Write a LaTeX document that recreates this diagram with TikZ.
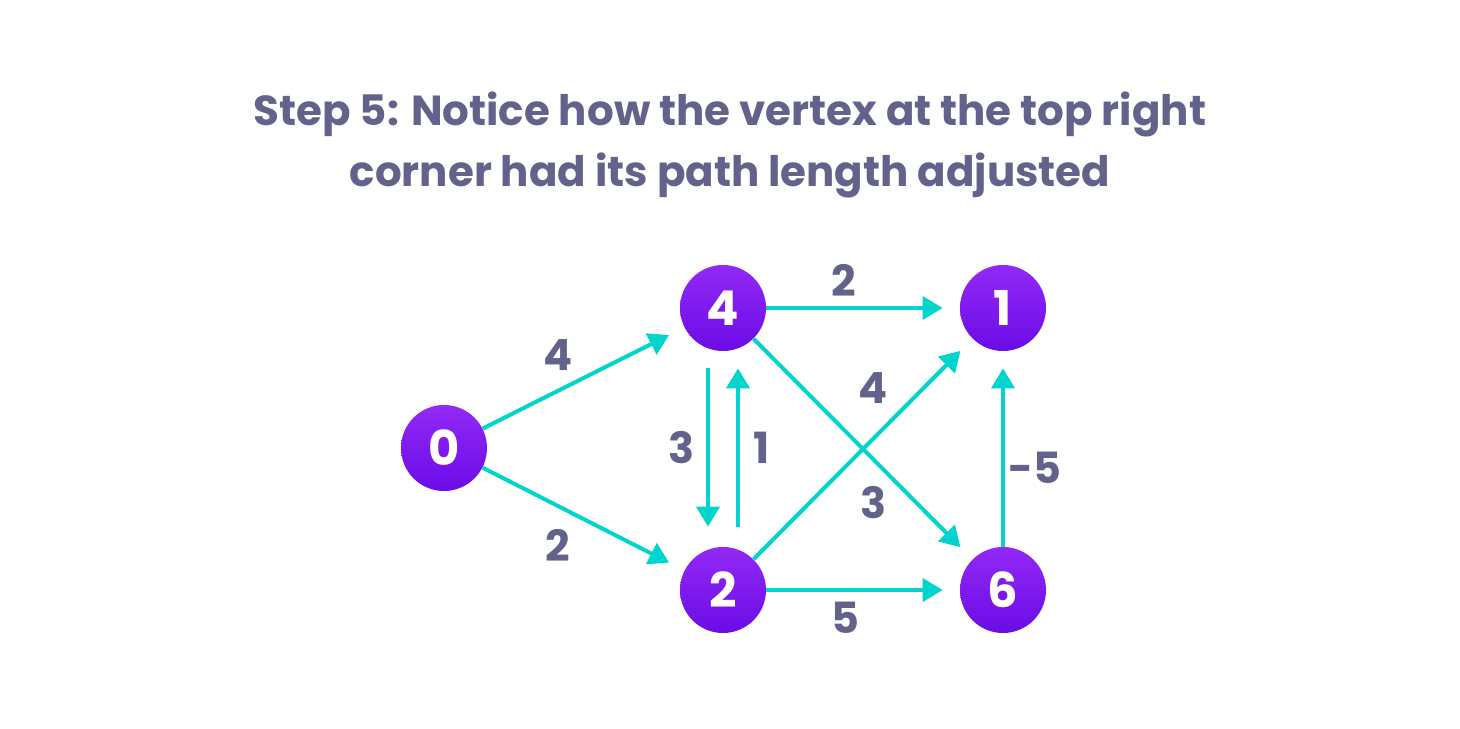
\documentclass[tikz,border=0pt]{standalone}
\usepackage{fontspec}
\setmainfont{Poppins}
\usetikzlibrary{arrows.meta}
\definecolor{slate}{RGB}{99,98,138}
\definecolor{aqua}{RGB}{0,212,204}
\definecolor{violettop}{RGB}{146,41,246}
\definecolor{violetbot}{RGB}{107,12,230}

\begin{document}
\begin{tikzpicture}[x=0.5pt,y=-0.5pt]
	\tikzstyle{Vertex} = [circle, minimum size=43pt, inner sep=0pt, top color=violettop, bottom color=violetbot, text=white, font=\bfseries\fontsize{24}{24}\selectfont]
	\tikzstyle{Weight} = [text=slate, font=\bfseries\fontsize{21.5}{22}\selectfont]
	\tikzstyle{Title} = [text=slate, anchor=base, font=\bfseries\fontsize{21}{28}\selectfont]
	\tikzstyle{arrow} = [aqua, line width=2pt, -{Triangle[length=10pt,width=11.5pt]}, shorten >=8.5pt]

	\useasboundingbox (0,0) rectangle (1460,728);

	\node (title1) [Title] at (730,125) {Step 5: Notice how the vertex at the top right};
	\node (title2) [Title] at (730,186) {corner had its path length adjusted};

	\node (n0) [Vertex] at (444,448) {0};
	\node (n4) [Vertex] at (723,308) {4};
	\node (n1) [Vertex] at (1003,308) {1};
	\node (n2) [Vertex] at (723,590) {2};
	\node (n6) [Vertex] at (1003,590) {6};

	\draw [arrow] (n0) -- (n4);
	\draw [arrow] (n0) -- (n2);
	\draw [arrow] (n4) -- (n1);
	\draw [arrow] (n4) -- (n6);
	\draw [arrow] (n2) -- (n1);
	\draw [arrow] (n2) -- (n6);
	\draw [arrow] (n6) -- (n1);
	\draw [arrow, shorten <=8.5pt, shorten >=10pt] ([xshift=-7.5pt]n4.south) -- ([xshift=-7.5pt]n2.north);
	\draw [arrow, shorten <=10pt] ([xshift=7.5pt]n2.north) -- ([xshift=7.5pt]n4.south);

	\node (w04) [Weight] at (558,355) {4};
	\node (w02) [Weight] at (558,545) {2};
	\node (w41) [Weight] at (844,280) {2};
	\node (w42) [Weight] at (681,448) {3};
	\node (w24) [Weight] at (762,448) {1};
	\node (w21) [Weight] at (873,388) {4};
	\node (w46) [Weight] at (873,503) {3};
	\node (w61) [Weight] at (1035,468) {-5};
	\node (w26) [Weight] at (845,618) {5};
\end{tikzpicture}
\end{document}
